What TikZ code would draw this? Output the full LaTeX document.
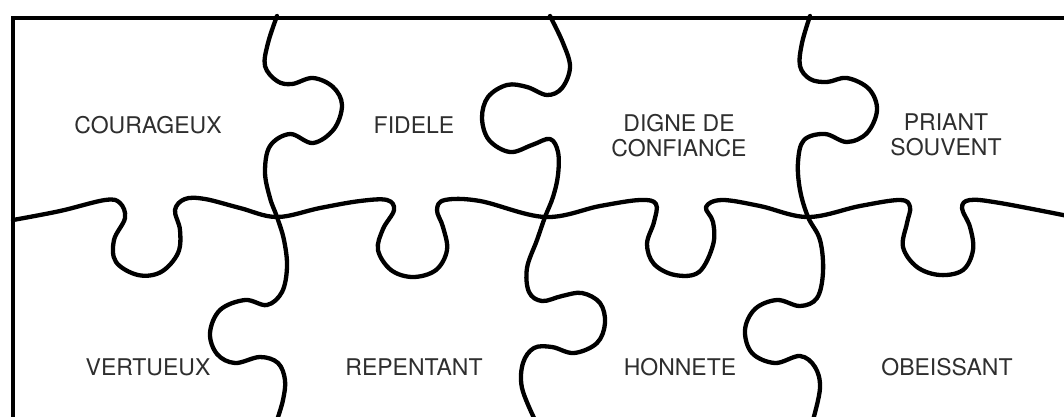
\documentclass[tikz,border=0pt]{standalone}
\usepackage{fontspec}
\setmainfont{TeX Gyre Heros}
\definecolor{txt}{HTML}{2E2E2E}
\begin{document}
\begin{tikzpicture}[x=1pt,y=-1pt,
  cut/.style={line width=4.3pt, line cap=round, line join=round},
  frame/.style={line width=4.3pt, line cap=butt, line join=miter},
  lab/.style={font=\fontsize{23}{25}\selectfont, text=txt, align=center, inner sep=0pt}]
\useasboundingbox (0,0) rectangle (1064,416);
\fill[white] (0,0) rectangle (1064,416);
% frame
\draw[frame] (1070,18) -- (13,18) -- (13,420);
% vertical cuts
\draw[cut] plot[smooth, tension=0.6] coordinates {(277,16) (268,43) (265,66) (277,81) (292,84) (313,78) (333,87) (342,105) (334,129) (313,143) (290,134) (270,146) (265,172) (270,198) (277,217) (284,240) (287,267) (282,292) (267,305) (245,300) (220,310) (210,333) (217,354) (235,363) (260,357) (278,363) (285,380) (283,400) (277,420)};
\draw[cut] plot[smooth, tension=0.6] coordinates {(550,16) (563,43) (570,67) (562,88) (547,95) (527,87) (507,85) (488,97) (482,118) (489,140) (510,152) (532,145) (550,139) (558,152) (558,175) (553,197) (545,217) (537,240) (527,268) (529,292) (542,301) (562,296) (582,293) (600,303) (605,323) (597,343) (574,353) (552,347) (534,348) (523,363) (522,388) (535,420)};
\draw[cut] plot[smooth, tension=0.6] coordinates {(810,16) (802,43) (800,66) (810,79) (827,82) (847,78) (869,89) (877,110) (867,133) (847,142) (825,134) (804,140) (798,162) (800,190) (808,217) (820,240) (823,272) (817,298) (800,306) (777,300) (755,309) (745,330) (752,353) (775,363) (800,356) (815,367) (820,388) (813,420)};
% horizontal cut
\draw[cut] plot[smooth, tension=0.6] coordinates {(13,220) (60,211) (105,200) (120,203) (125,218) (114,240) (116,262) (138,275) (161,272) (178,253) (180,230) (175,210) (185,199) (205,199) (240,208) (277,217) (320,208) (360,201) (387,200) (394,210) (383,229) (378,250) (391,270) (413,277) (436,270) (447,250) (443,227) (437,210) (445,200) (480,201) (545,217) (600,206) (640,200) (656,204) (654,222) (647,244) (654,264) (675,275) (699,272) (713,245) (713,222) (706,207) (722,200) (760,206) (808,217) (860,206) (900,200) (910,207) (907,223) (903,247) (917,267) (940,275) (963,270) (973,250) (970,227) (962,208) (970,200) (1000,203) (1068,216)};
% labels
\node[lab] (courageux) at (148,125) {COURAGEUX};
\node[lab] (fidele) at (414,125) {FIDELE};
\node[lab] (digne) at (679,135.5) {DIGNE DE\\CONFIANCE};
\node[lab] (priant) at (946,135) {PRIANT\\SOUVENT};
\node[lab] (vertueux) at (148,367) {VERTUEUX};
\node[lab] (repentant) at (414,367) {REPENTANT};
\node[lab] (honnete) at (680,367) {HONNETE};
\node[lab] (obeissant) at (947,367) {OBEISSANT};
\end{tikzpicture}
\end{document}
